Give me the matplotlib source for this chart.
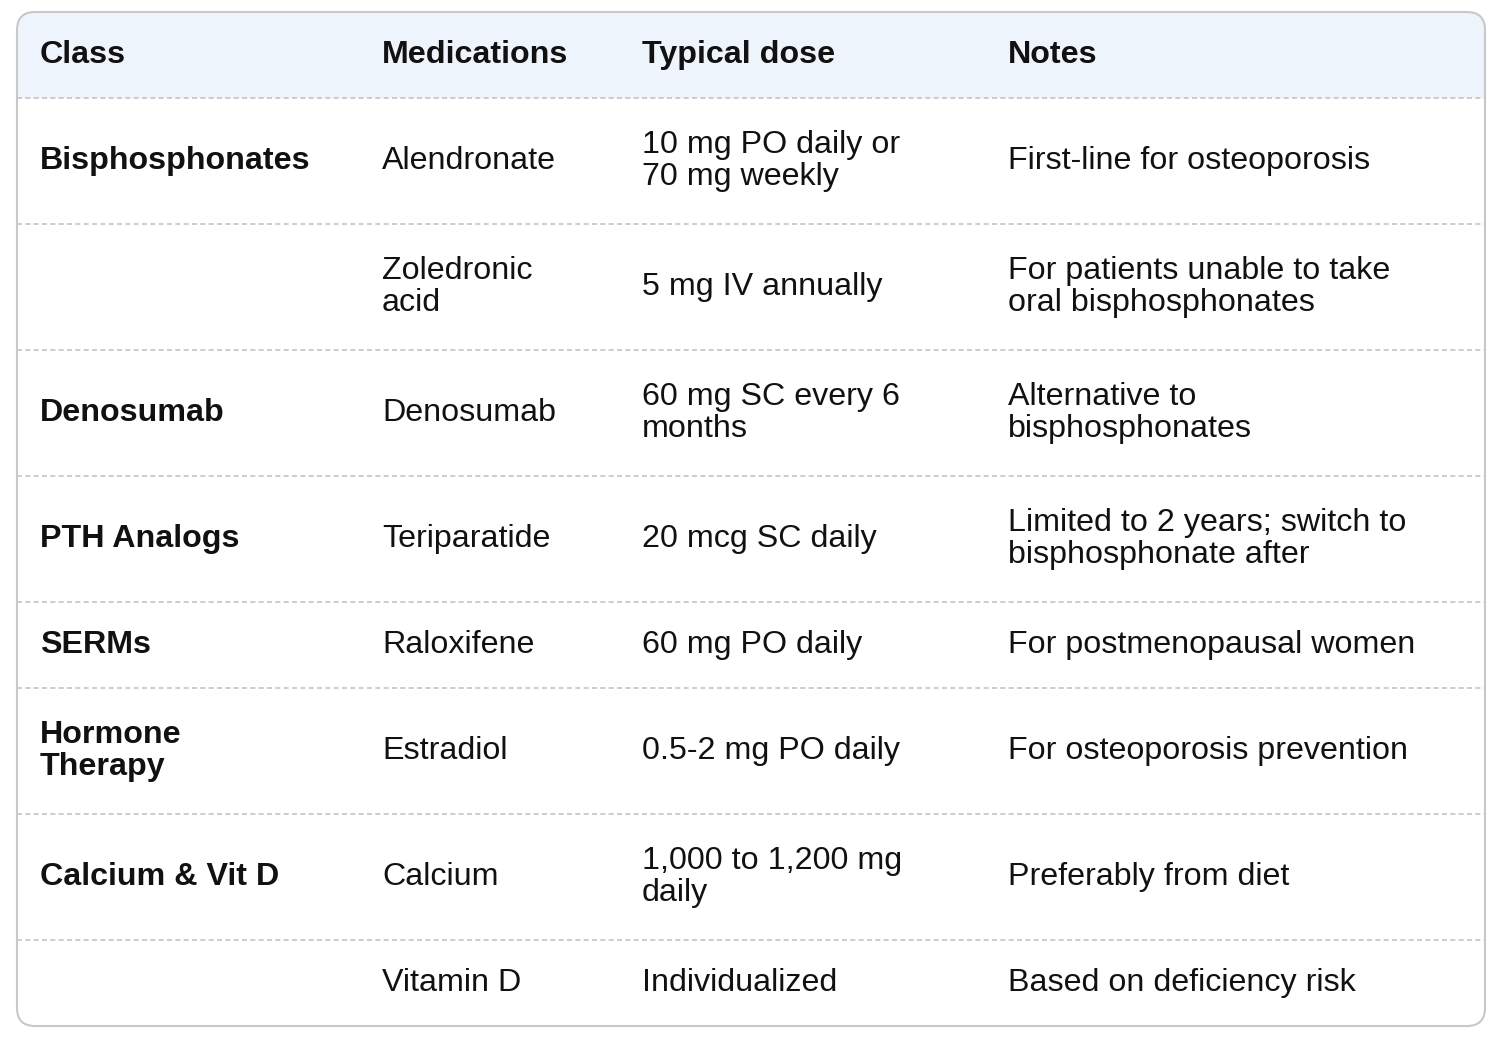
import matplotlib
matplotlib.use("Agg")
import matplotlib.pyplot as plt
from matplotlib.patches import FancyBboxPatch, Rectangle

headers = ["Class", "Medications", "Typical dose", "Notes"]
classes = ["Bisphosphonates", "", "Denosumab", "PTH Analogs", "SERMs", "Hormone\nTherapy", "Calcium & Vit D", ""]
meds = ["Alendronate", "Zoledronic\nacid", "Denosumab", "Teriparatide", "Raloxifene", "Estradiol", "Calcium", "Vitamin D"]
doses = ["10 mg PO daily or\n70 mg weekly", "5 mg IV annually", "60 mg SC every 6\nmonths", "20 mcg SC daily",
         "60 mg PO daily", "0.5-2 mg PO daily", "1,000 to 1,200 mg\ndaily", "Individualized"]
notes = ["First-line for osteoporosis", "For patients unable to take\noral bisphosphonates", "Alternative to\nbisphosphonates",
         "Limited to 2 years; switch to\nbisphosphonate after", "For postmenopausal women",
         "For osteoporosis prevention", "Preferably from diet", "Based on deficiency risk"]

row_bounds = [98, 224, 350, 476, 602, 688, 814, 940, 1026]
col_x = [40, 382, 642, 1008]

W, H = 1498, 1054
fig = plt.figure(figsize=(W/100, H/100), dpi=100)
ax = fig.add_axes([0, 0, 1, 1])
ax.set_xlim(0, W); ax.set_ylim(H, 0); ax.axis("off")
font = "Liberation Sans"
fs = 23.2

box = FancyBboxPatch((17, 12), 1468, 1014, boxstyle="round,pad=0,rounding_size=18",
                     facecolor="white", edgecolor="#c8c8c8", linewidth=1.5, zorder=3, fill=False)
bg = FancyBboxPatch((17, 12), 1468, 1014, boxstyle="round,pad=0,rounding_size=18",
                    facecolor="white", edgecolor="none", zorder=0)
ax.add_patch(bg)
hdr = Rectangle((17, 12), 1468, 86, facecolor="#eef4fc", edgecolor="none", zorder=1)
ax.add_patch(hdr)
hdr.set_clip_path(bg)
ax.add_patch(box)

for y in row_bounds[:-1]:
    ax.plot([17, 1485], [y, y], color="#c4c4c4", lw=1.2, ls=(0, (3, 2)), zorder=2)

for x, h in zip(col_x, headers):
    ax.text(x, 55, h, fontsize=fs, fontweight="bold", family=font, va="center", ha="left", color="#111")

for i in range(len(meds)):
    yc = (row_bounds[i] + row_bounds[i+1]) / 2
    for j, (txt, bold) in enumerate([(classes[i], True), (meds[i], False), (doses[i], False), (notes[i], False)]):
        if txt:
            ax.text(col_x[j], yc, txt, fontsize=fs, fontweight="bold" if bold else "normal", family=font,
                    va="center", ha="left", color="#111", linespacing=1.1)

fig.savefig("out.png", dpi=100)
